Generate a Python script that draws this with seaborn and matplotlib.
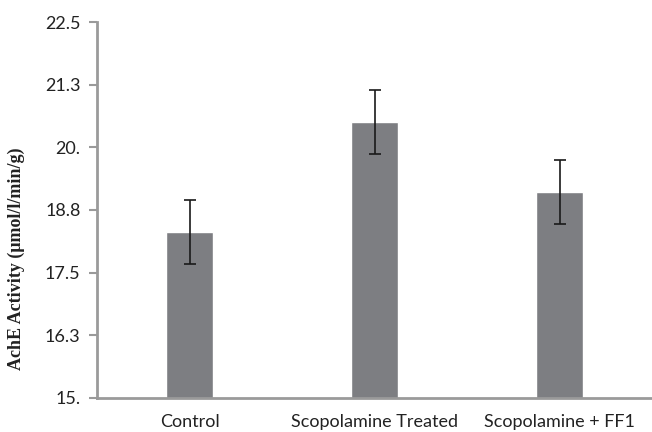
import pandas as pd
import matplotlib
matplotlib.use('Agg')
import matplotlib.pyplot as plt
import seaborn as sns

groups = ['Control', 'Scopolamine Treated', 'Scopolamine + FF1']
activity = [18.31, 20.50, 19.11]
sem = [0.64, 0.64, 0.64]
yticks = [15.0, 16.25, 17.5, 18.75, 20.0, 21.25, 22.5]
ytick_labels = ['15.', '16.3', '17.5', '18.8', '20.', '21.3', '22.5']

df = pd.DataFrame({'group': groups, 'activity': activity})

sns.set_style('white')
plt.rcParams['font.family'] = ['Lato', 'DejaVu Sans']

fig = plt.figure(figsize=(6.52, 4.32), dpi=100)
ax = fig.add_axes([0.149, 0.079, 0.851, 0.870])
sns.barplot(data=df, x='group', y='activity', color='#7d7e82', saturation=1,
            width=0.253, errorbar=None, ax=ax)
ax.errorbar(range(len(groups)), activity, yerr=sem, fmt='none',
            ecolor='#1a1a1a', elinewidth=1.2, capsize=4, capthick=1.2)

ax.set_ylim(15, 22.5)
ax.set_xlim(-0.5, 2.5)
ax.set_yticks(yticks)
ax.set_yticklabels(ytick_labels)
ax.set_xlabel('')
ax.set_ylabel('AchE Activity (μmol/l/min/g)', family=['Liberation Serif', 'DejaVu Serif'],
              fontsize=13, fontweight='bold', color='#222222')
ax.yaxis.set_label_coords(-0.13, 0.37)
ax.tick_params(axis='y', left=True, length=6, width=1.5, color='#9a9a9a',
               labelsize=13, labelcolor='#222222', pad=6)
ax.tick_params(axis='x', bottom=False, labelsize=13, labelcolor='#222222', pad=8)
sns.despine(ax=ax, right=True, top=True)
for s in ['left', 'bottom']:
    ax.spines[s].set_color('#9a9a9a')
    ax.spines[s].set_linewidth(2)

fig.savefig('out.png', dpi=100)
